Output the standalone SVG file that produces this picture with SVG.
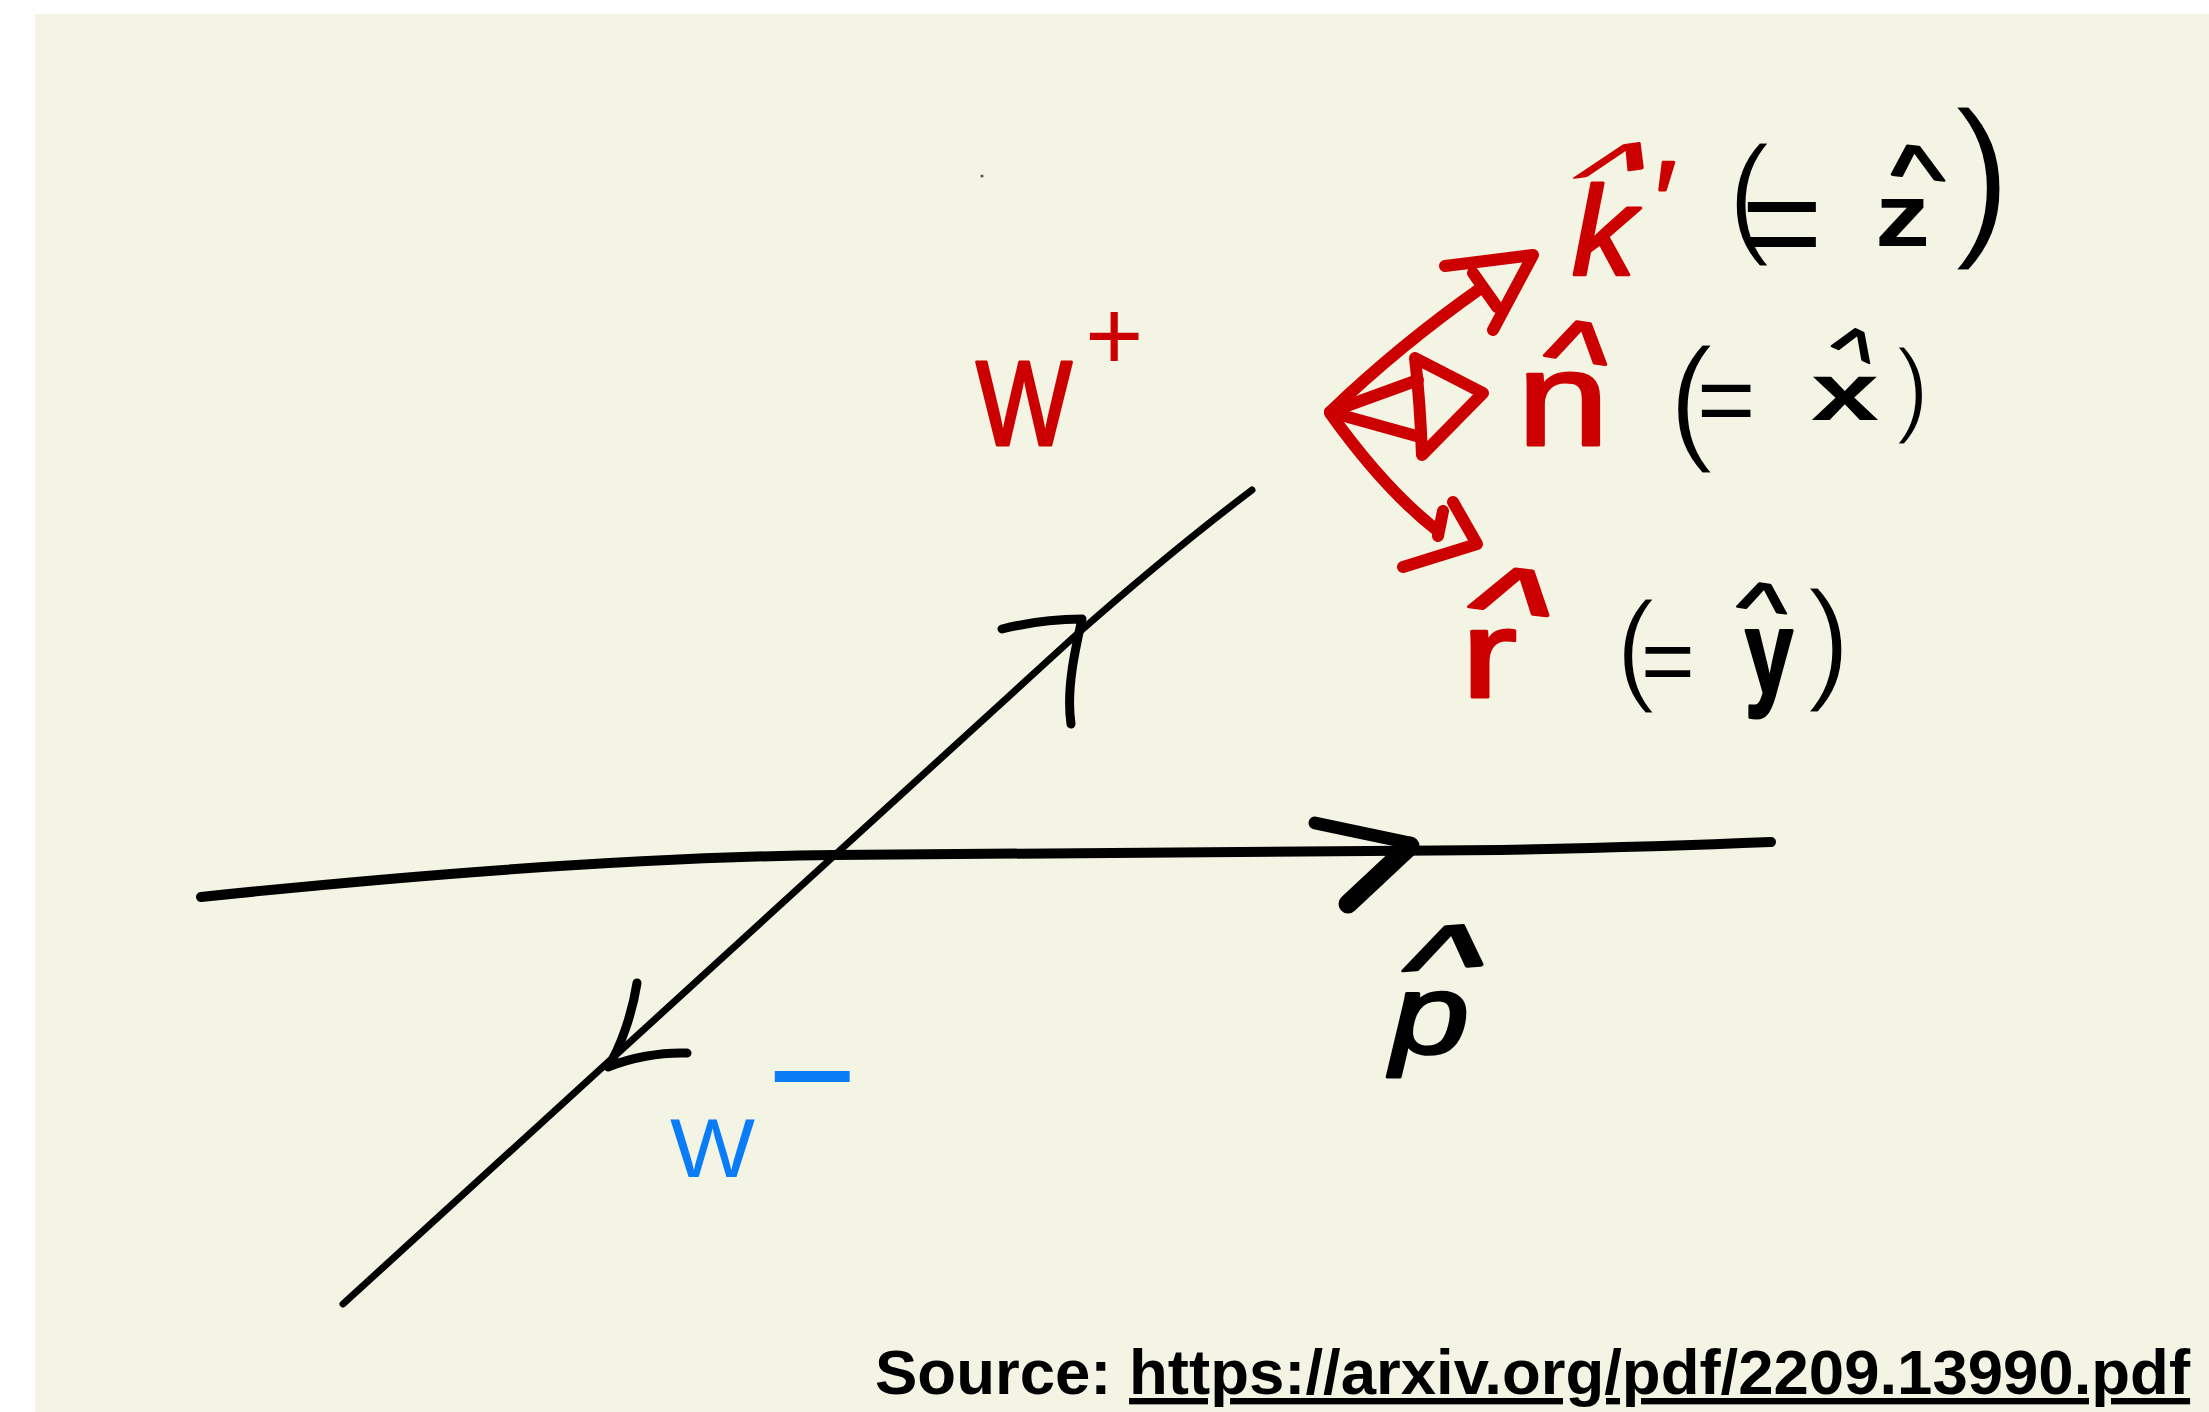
<svg xmlns="http://www.w3.org/2000/svg" width="2209" height="1412" viewBox="0 0 2209 1412">
<style>
.t{font-family:'Liberation Sans',Arial,'DejaVu Sans',sans-serif}
.red{fill:#cc0000}
.rs{stroke:#cc0000;stroke-width:3;stroke-linejoin:round}
.blk{fill:#000}
.blue{fill:#0a7cf5}
.hatk{stroke:#000;stroke-width:3;stroke-linejoin:round}
.hatr{stroke:#cc0000;stroke-width:3;stroke-linejoin:round}
.thin{stroke:#f3f4e3;stroke-width:3}
.ln{fill:none;stroke:#000;stroke-linecap:round;stroke-linejoin:round}
.rv{fill:none;stroke:#cc0000;stroke-width:12;stroke-linecap:round;stroke-linejoin:round}
</style>
<rect x="0" y="0" width="2209" height="1412" fill="#ffffff"/>
<rect x="35" y="14" width="2174" height="1398" fill="#f3f4e3"/>
<circle cx="982" cy="176" r="1.6" fill="#555"/>

<g id="connectors">
  <path class="ln" stroke-width="10" d="M201,897 C450,871 650,857 834,855 L1500,850 Q1650,847 1771,842"/>
  <path class="ln" stroke-width="7" d="M343,1304 L1076,635 Q1170,552 1252,490"/>
  <path class="ln" stroke-width="9" d="M1002,629 C1030,622 1060,619 1082,619 C1075,650 1066,690 1071,724"/>
  <path class="ln" stroke-width="9" d="M637,983 C632,1015 620,1048 608,1067 C630,1058 660,1052 687,1053"/>
  <path class="ln" stroke-width="13" d="M1315,823 L1410,843"/>
  <path class="ln" stroke-width="19" d="M1410,846 L1348,904"/>
  <g id="vec-k">
    <path class="rv" d="M1330,412 Q1400,345 1481,288"/>
    <path class="rv" d="M1445,266 L1533,255 L1493,330 M1473,273 L1497,307"/>
  </g>
  <g id="vec-n">
    <path class="rv" d="M1330,412 L1418,380 M1330,412 L1420,437"/>
    <path class="rv" d="M1415,358 L1483,393 L1422,455 Q1420,400 1415,358 Z"/>
  </g>
  <g id="vec-r">
    <path class="rv" d="M1330,413 Q1385,490 1438,531"/>
    <path class="rv" d="M1453,502 L1477,544 L1403,567 M1443,511 L1438,536"/>
  </g>
</g>

<g id="label-Wplus" class="t red">
  <text x="976" y="445" font-size="121" class="rs" textLength="96" lengthAdjust="spacingAndGlyphs">W</text>
  <text x="1085" y="370" font-size="100">+</text>
</g>
<g id="label-Wminus" class="t blue">
  <text x="670" y="1177" font-size="84" textLength="85" lengthAdjust="spacingAndGlyphs">W</text>
  <text x="767" y="1128" font-size="154">−</text>
</g>
<g id="label-p" class="t blk">
  <text x="1391" y="1053" font-size="113" font-style="italic" class="hatk" textLength="78" lengthAdjust="spacingAndGlyphs">p</text>
  <text x="0" y="0" font-size="100" class="hatk" transform="matrix(1.683 -0.122 -0.3238 1.1528 1392.3 1008.4)">^</text>
</g>
<g id="label-k" class="t">
  <text x="1572" y="275" font-size="127" font-style="italic" class="red rs">k</text>
  <text x="0" y="0" font-size="100" class="red hatr" transform="matrix(1.439 -0.1951 -0.6348 0.8031 1553.7 204.1)">^</text>
  <text x="1650" y="238" font-size="110" font-style="italic" class="red rs">′</text>
  <text x="1727" y="239" font-size="133" class="blk thin" letter-spacing="-31">(</text>
  <text x="1741" y="270" font-size="140" class="blk">=</text>
  <text x="1875" y="246" font-size="89" font-weight="bold" class="blk" textLength="55" lengthAdjust="spacingAndGlyphs">z</text>
  <text x="0" y="0" font-size="100" class="blk hatk" transform="matrix(1.122 0.122 0.1295 0.8679 1895.9 203.3)">^</text>
  <text x="1953" y="234" font-size="177" class="blk thin">)</text>
</g>
<g id="label-n" class="t">
  <text x="1517" y="445" font-size="134" class="red rs" textLength="92" lengthAdjust="spacingAndGlyphs">n</text>
  <text x="0" y="0" font-size="100" class="red hatr" transform="matrix(1.317 0.1951 -0.2332 1.0363 1536.4 389.6)">^</text>
  <text x="1668" y="445" font-size="140" class="blk thin" letter-spacing="-20">(</text>
  <text x="1697" y="434" font-size="100" class="blk">=</text>
  <text x="1811" y="420" font-size="81" font-weight="bold" class="blk" textLength="68" lengthAdjust="spacingAndGlyphs">x</text>
  <text x="0" y="0" font-size="100" class="blk hatk" transform="matrix(0.8049 0.3659 -0.2462 0.6606 1823.5 367.7)">^</text>
  <text x="1895" y="423" font-size="105" class="blk thin">)</text>
</g>
<g id="label-r" class="t">
  <text x="1461" y="697" font-size="124" class="red rs" textLength="56" lengthAdjust="spacingAndGlyphs">r</text>
  <text x="0" y="0" font-size="100" class="red hatr" transform="matrix(1.683 0.1951 -0.4275 1.1399 1454.8 644.0)">^</text>
  <text x="1615" y="688" font-size="124" class="blk thin" letter-spacing="-18">(</text>
  <text x="1641" y="693" font-size="92" class="blk">=</text>
  <text x="1745" y="693" font-size="119" font-weight="bold" class="blk hatk" textLength="48" lengthAdjust="spacingAndGlyphs">y</text>
  <text x="0" y="0" font-size="100" class="blk hatk" transform="matrix(1.0488 0.1463 -0.0907 0.7254 1733.9 630.5)">^</text>
  <text x="1806" y="685" font-size="136" class="blk thin">)</text>
</g>
<g id="source" class="t blk">
  <text x="875" y="1394" font-size="63.5" font-weight="bold">Source: <tspan text-decoration="underline">https://arxiv.org/pdf/2209.13990.pdf</tspan></text>
</g>
</svg>
